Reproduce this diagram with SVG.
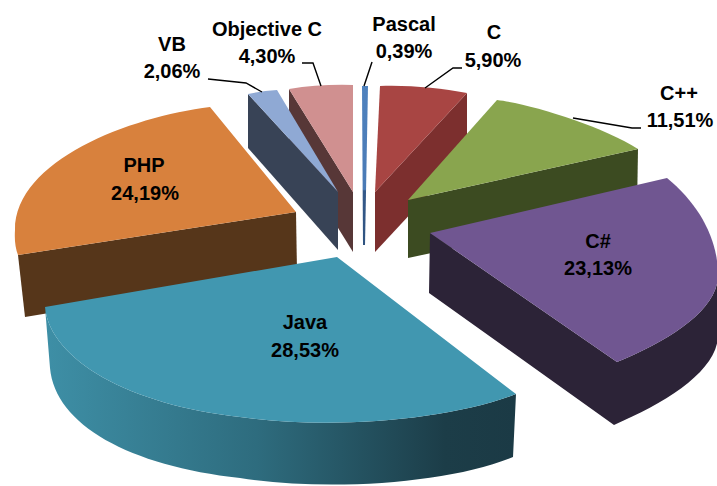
<svg xmlns="http://www.w3.org/2000/svg" width="717" height="486" viewBox="0 0 717 486">
<defs>
<linearGradient id="javaSide" x1="45" y1="0" x2="516" y2="0" gradientUnits="userSpaceOnUse">
<stop offset="0" stop-color="#3E8FA6"/>
<stop offset="0.45" stop-color="#2E6C7E"/>
<stop offset="0.85" stop-color="#1C3D48"/>
<stop offset="1" stop-color="#1B3A45"/>
</linearGradient>
<linearGradient id="pascalG" x1="0" y1="86" x2="0" y2="245" gradientUnits="userSpaceOnUse">
<stop offset="0" stop-color="#4F82BE"/>
<stop offset="0.65" stop-color="#4A7AB5"/>
<stop offset="0.66" stop-color="#34598A"/>
<stop offset="1" stop-color="#2F5380"/>
</linearGradient>
</defs>
<style>
.lbl{font-family:"Liberation Sans",Arial,sans-serif;font-weight:bold;font-size:20px;fill:#000;text-anchor:middle}
.lead{fill:none;stroke:#000;stroke-width:1.4}
</style>
<rect width="717" height="486" fill="#fff"/>

<g id="objc">
<path d="M289,89 L353,192 L353,252 L289,149 Z" fill="#573737"/>
<path d="M353,192 L289,89 Q320,84 353,85 Z" fill="#D09090"/>
</g>
<g id="pascal">
<path d="M362,86 L368,86 L365,245 L363,245 Z" fill="url(#pascalG)"/>
</g>
<g id="c">
<path d="M375,192 L467,93 L467,153 L375,252 Z" fill="#7C2F2E"/>
<path d="M375,192 L380,86 C410,85 440,88 467,93 Z" fill="#A84543"/>
</g>
<g id="vb">
<path d="M248,94 L338,192 L338,250 L248,148 Z" fill="#384356"/>
<path d="M338,192 L248,94 Q262,91 277,90 Z" fill="#8FA9D4"/>
</g>
<g id="cpp">
<path d="M408,200 L638,149 L637,209 L408,258 Z" fill="#3C4B21"/>
<path d="M408,200 L497,100 C530,104 600,125 638,149 Z" fill="#89A54E"/>
</g>
<g id="php">
<path d="M18,255 L296,212 L297,272 L25,317 Z" fill="#56361A"/>
<path d="M296,212 L210,107 C130,117 15,160 15,230 Q14,245 18,255 Z" fill="#D8813D"/>
</g>
<g id="csharp">
<path d="M430,233 L617,362 C670,340 718,310 718,275 L718,335 C718,370 668,402 614,425 L429,293 Z" fill="#2C2337"/>
<path d="M430,233 L667,178 C700,205 718,240 718,275 C718,310 670,340 617,362 Z" fill="#705691"/>
</g>
<g id="java">
<path d="M45,307 C50,360 130,405 240,417 C330,430 450,420 516,394 L513,457 C450,483 330,492 240,478 C130,466 55,425 50,368 Z" fill="url(#javaSide)"/>
<path d="M337,257 L45,307 C50,360 130,405 240,417 C330,430 450,420 516,394 Z" fill="#4197B0"/>
</g>

<g id="connectors">
<polyline class="lead" points="208,79 246,83 262,92"/>
<polyline class="lead" points="302,63 313,63 321,86"/>
<polyline class="lead" points="372,62 364,86"/>
<polyline class="lead" points="462,68 453,68 425,88"/>
<polyline class="lead" points="641,128 632,128 573,118"/>
</g>

<g id="labels">
<text class="lbl" x="172" y="51">VB<tspan x="172" y="78">2,06%</tspan></text>
<text class="lbl" x="267" y="36">Objective C<tspan x="267" y="63">4,30%</tspan></text>
<text class="lbl" x="404" y="31">Pascal<tspan x="404" y="58">0,39%</tspan></text>
<text class="lbl" x="494" y="39">C<tspan x="493" y="67">5,90%</tspan></text>
<text class="lbl" x="679" y="100">C++<tspan x="680" y="127">11,51%</tspan></text>
<text class="lbl" x="144" y="172">PHP<tspan x="145" y="200">24,19%</tspan></text>
<text class="lbl" x="598" y="248">C#<tspan x="598" y="275">23,13%</tspan></text>
<text class="lbl" x="305" y="329">Java<tspan x="305" y="357">28,53%</tspan></text>
</g>
</svg>
